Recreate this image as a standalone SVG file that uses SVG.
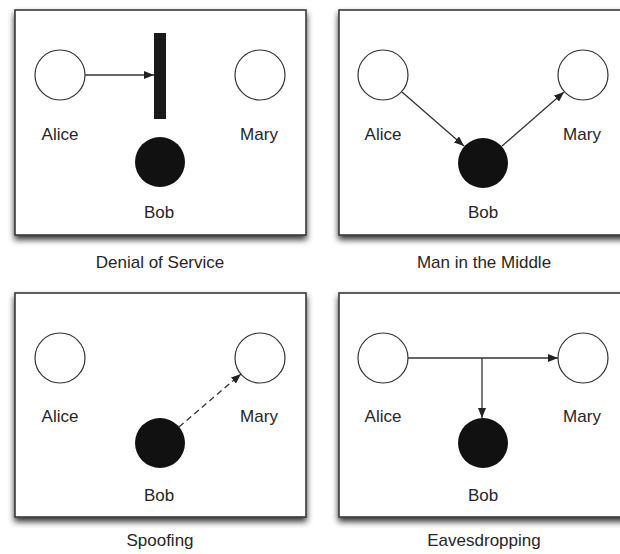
<svg xmlns="http://www.w3.org/2000/svg" width="620" height="554" viewBox="0 0 620 554">
<style>
.panel{fill:#fff;stroke:#3a3a3a;stroke-width:1.6}
.open{fill:#fff;stroke:#333;stroke-width:1.2}
.bob{fill:#111;stroke:none}
.lbl{font-family:"Liberation Sans",Arial,sans-serif;font-size:17px;fill:#262626;text-anchor:middle}
.edge{fill:none;stroke:#333;stroke-width:1.3}
.dash{stroke-dasharray:6,4}
</style>
<defs>
<filter id="sh" x="-10%" y="-10%" width="120%" height="125%">
<feGaussianBlur in="SourceAlpha" stdDeviation="3"/>
<feOffset dx="0" dy="4" result="b"/>
<feComponentTransfer><feFuncA type="linear" slope="0.8"/></feComponentTransfer>
<feMerge><feMergeNode/><feMergeNode in="SourceGraphic"/></feMerge>
</filter>
<marker id="ah" viewBox="0 0 10 8" refX="10" refY="4" markerWidth="10" markerHeight="8" markerUnits="userSpaceOnUse" orient="auto">
<path d="M0,0 L10,4 L0,8 Z" fill="#222"/>
</marker>
</defs>
<rect width="620" height="554" fill="#fff"/>

<g id="panel-dos">
<rect class="panel" x="15" y="10" width="291" height="225" filter="url(#sh)"/>
<text class="lbl" x="160" y="268">Denial of Service</text>
</g>
<g id="panel-mitm">
<rect class="panel" x="339" y="10" width="290" height="225" filter="url(#sh)"/>
<text class="lbl" x="484" y="268">Man in the Middle</text>
</g>
<g id="panel-spoof">
<rect class="panel" x="15" y="293" width="291" height="224" filter="url(#sh)"/>
<text class="lbl" x="160" y="546">Spoofing</text>
</g>
<g id="panel-eaves">
<rect class="panel" x="339" y="293" width="290" height="224" filter="url(#sh)"/>
<text class="lbl" x="484" y="546">Eavesdropping</text>
</g>

<g id="dos-alice"><circle class="open" cx="60" cy="75" r="25"/><text class="lbl" x="60" y="140">Alice</text></g>
<g id="dos-mary"><circle class="open" cx="260" cy="75" r="25"/><text class="lbl" x="259" y="140">Mary</text></g>
<g id="dos-bob"><circle class="bob" cx="160" cy="162" r="25"/><text class="lbl" x="159" y="218">Bob</text></g>
<g id="dos-wall"><rect x="154" y="33" width="12" height="86" fill="#1a1a1a"/></g>

<g id="mitm-alice"><circle class="open" cx="383" cy="75" r="25"/><text class="lbl" x="383" y="140">Alice</text></g>
<g id="mitm-mary"><circle class="open" cx="583" cy="75" r="25"/><text class="lbl" x="582" y="140">Mary</text></g>
<g id="mitm-bob"><circle class="bob" cx="483" cy="163" r="25"/><text class="lbl" x="483" y="218">Bob</text></g>

<g id="spoof-alice"><circle class="open" cx="60" cy="358" r="25"/><text class="lbl" x="60" y="422">Alice</text></g>
<g id="spoof-mary"><circle class="open" cx="260" cy="358" r="25"/><text class="lbl" x="259" y="422">Mary</text></g>
<g id="spoof-bob"><circle class="bob" cx="160" cy="443" r="25"/><text class="lbl" x="159" y="501">Bob</text></g>

<g id="eaves-alice"><circle class="open" cx="383" cy="358" r="25"/><text class="lbl" x="383" y="422">Alice</text></g>
<g id="eaves-mary"><circle class="open" cx="583" cy="358" r="25"/><text class="lbl" x="582" y="422">Mary</text></g>
<g id="eaves-bob"><circle class="bob" cx="483" cy="443" r="25"/><text class="lbl" x="483" y="501">Bob</text></g>

<g id="connectors">
<line class="edge" x1="85" y1="75" x2="154" y2="75" marker-end="url(#ah)"/>
<line class="edge" x1="402" y1="92" x2="464" y2="146" marker-end="url(#ah)"/>
<line class="edge" x1="502" y1="146" x2="564" y2="92" marker-end="url(#ah)"/>
<line class="edge dash" x1="179" y1="427" x2="241" y2="374" marker-end="url(#ah)"/>
<line class="edge" x1="408" y1="358" x2="558" y2="358" marker-end="url(#ah)"/>
<line class="edge" x1="482" y1="358" x2="482" y2="418" marker-end="url(#ah)"/>
</g>
</svg>
